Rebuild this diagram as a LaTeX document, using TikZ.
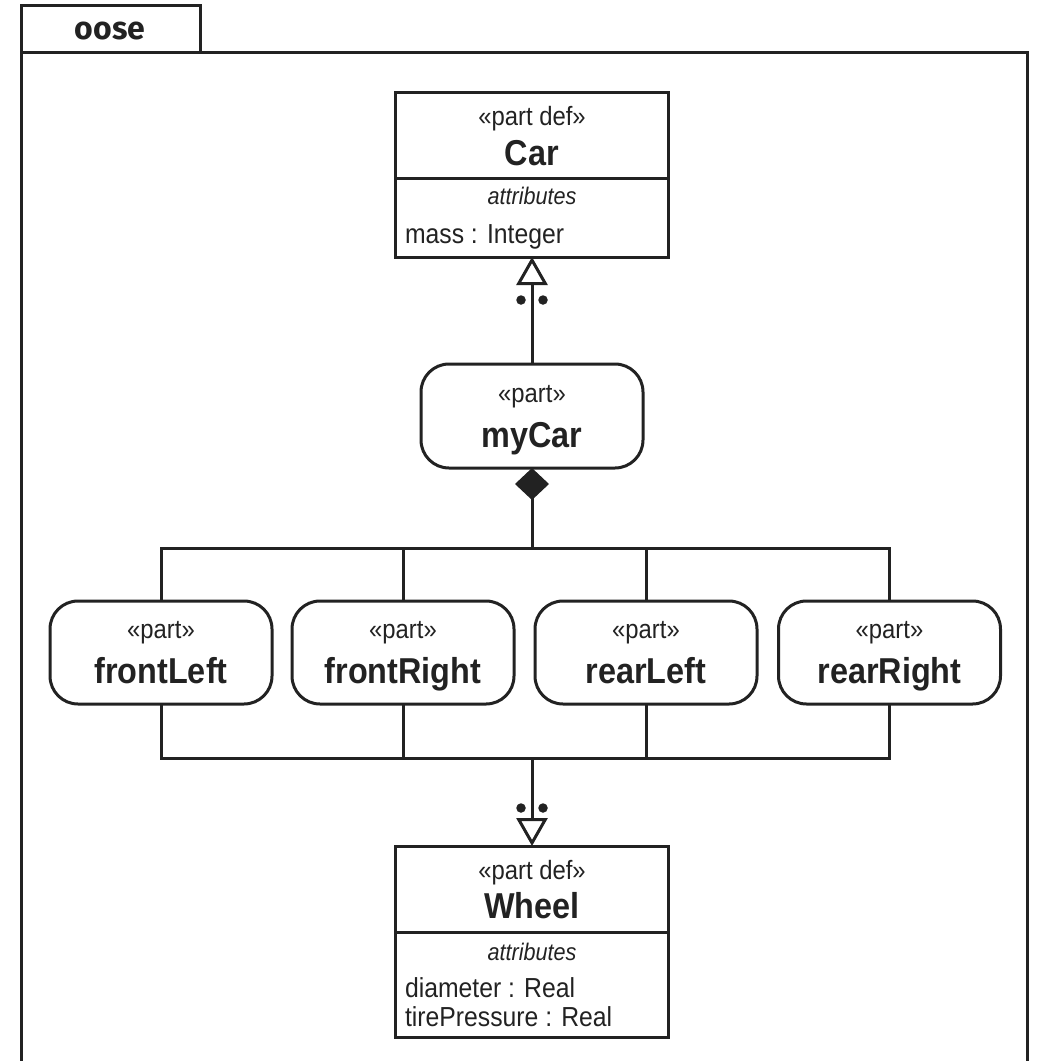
\documentclass[tikz,border=0pt]{standalone}
\usepackage{fontspec}
\setmainfont{Liberation Sans}[FakeStretch=0.9]
\newfontfamily\tabfont{Fira Sans}
\usetikzlibrary{arrows.meta}
\definecolor{ink}{RGB}{34,34,34}
\begin{document}
\begin{tikzpicture}[x=1pt,y=-1pt,line width=3pt,color=ink,
  every node/.style={inner sep=0pt,outer sep=0pt},
  defbox/.style={draw,rectangle,minimum width=273pt},
  usagebox/.style={draw,rectangle,rounded corners=28pt,minimum height=103pt},
  stereo/.style={anchor=base,font=\fontsize{26.5}{30}\selectfont},
  usename/.style={anchor=base,font=\fontsize{36}{42}\selectfont\bfseries},
  compartment/.style={anchor=base,font=\fontsize{24}{28}\selectfont\itshape},
  member/.style={anchor=base west,font=\fontsize{27.5}{31}\selectfont},
  gen/.style={-{Triangle[open,length=28pt,width=31pt]}},
  comp/.style={{Diamond[length=32pt,width=34pt]}-},
  dot/.style={circle,fill,minimum size=9.5pt}]
\useasboundingbox (0,0) rectangle (1038,1061);

% package frame with its name tab
\draw (21,1070) -- (21,5) -- (200,5) -- (200,52);
\draw (21,52) -- (1027,52) -- (1027,1070);
\node[anchor=base,font=\tabfont\fontsize{32}{36}\selectfont\bfseries] (pkgname) at (110,39) {oose};

% part def Car
\node[defbox,minimum height=165pt] (car) at (532,174.5) {};
\draw (car.west |- 0,178) -- (car.east |- 0,178);
\node[stereo] (carst) at (532,125) {«part def»};
\node[usename] (carname) at (532,165) {Car};
\node[compartment] (caratt) at (532,204) {attributes};
\node[member] (carmass) at (405,243) {mass : Integer};

% part myCar
\node[usagebox,minimum width=222pt,minimum height=104pt] (mycar) at (532,416) {};
\node[stereo] (mycarst) at (532,402) {«part»};
\node[usename] (mycarname) at (532,447) {myCar};

% wheel parts
\foreach \n/\x/\t in {fl/161/frontLeft,fr/403/frontRight,rl/646/rearLeft,rr/889.5/rearRight}{
  \node[usagebox,minimum width=222pt] (\n) at (\x,652.5) {};
  \node[stereo] (\n st) at (\x,638) {«part»};
  \node[usename] (\n name) at (\x,683) {\t};
}

% part def Wheel
\node[defbox,minimum height=191pt] (wheel) at (532,941.5) {};
\draw (wheel.west |- 0,932) -- (wheel.east |- 0,932);
\node[stereo] (wheelst) at (532,879) {«part def»};
\node[usename] (wheelname) at (532,918) {Wheel};
\node[compartment] (wheelatt) at (532,960) {attributes};
\node[member] (wheeldia) at (405,997) {diameter : Real};
\node[member] (wheeltire) at (405,1026) {tirePressure : Real};

% myCar is defined by Car
\draw[gen] (mycar.north) -- (car.south);
\node[dot] (d1) at (521,300) {};
\node[dot] (d2) at (543,300) {};

% myCar is composed of the four wheels
\coordinate (topbus) at (532,548);
\draw[comp] (mycar.south) -- (topbus);
\draw (fl.north) -- (fl.north |- topbus) -- (rr.north |- topbus) -- (rr.north);
\draw (fr.north) -- (fr.north |- topbus);
\draw (rl.north) -- (rl.north |- topbus);

% the four wheels are defined by Wheel
\coordinate (botbus) at (532,758);
\draw (fl.south) -- (fl.south |- botbus) -- (rr.south |- botbus) -- (rr.south);
\draw (fr.south) -- (fr.south |- botbus);
\draw (rl.south) -- (rl.south |- botbus);
\draw[gen] (botbus) -- (wheel.north);
\node[dot] (d3) at (521,808) {};
\node[dot] (d4) at (543,808) {};
\end{tikzpicture}
\end{document}
